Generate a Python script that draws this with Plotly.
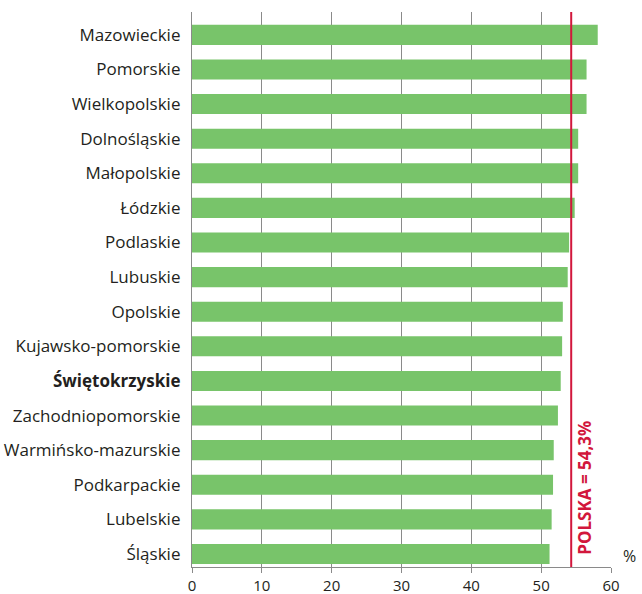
import plotly.graph_objects as go

# Regions, top to bottom, with their share (%)
regions = [
    "Mazowieckie", "Pomorskie", "Wielkopolskie", "Dolnośląskie", "Małopolskie",
    "Łódzkie", "Podlaskie", "Lubuskie", "Opolskie", "Kujawsko-pomorskie",
    "Świętokrzyskie", "Zachodniopomorskie", "Warmińsko-mazurskie",
    "Podkarpackie", "Lubelskie", "Śląskie",
]
values = [58.1, 56.5, 56.5, 55.3, 55.3, 54.8, 54.0, 53.8, 53.1, 53.0,
          52.8, 52.4, 51.8, 51.7, 51.5, 51.2]
poland_avg = 54.3
highlight = "Świętokrzyskie"

x_ticks = [0, 10, 20, 30, 40, 50, 60]

FONT = "Open Sans, Noto Sans, sans-serif"
TEXT = "#231f20"
GREEN = "#78c46a"
RED = "#d2173c"
GRID = "#8a8a8a"

tick_text = [f"<b>{r}</b>" if r == highlight else r for r in regions]

fig = go.Figure()
fig.add_trace(go.Bar(
    x=values, y=regions, orientation="h",
    marker=dict(color=GREEN, line=dict(width=0)),
    width=0.58, hoverinfo="x+y",
))

fig.add_shape(type="line", xref="x", yref="paper",
              x0=poland_avg, x1=poland_avg, y0=0, y1=1,
              line=dict(color=RED, width=2), layer="above")

fig.add_annotation(xref="x", yref="paper", x=poland_avg, y=0.0,
                   text="<b>POLSKA = 54,3%</b>", textangle=-90,
                   showarrow=False, xanchor="left", yanchor="bottom",
                   xshift=-1, yshift=10,
                   font=dict(family=FONT, size=17, color=RED))

fig.add_annotation(xref="paper", yref="paper", x=1.0, y=0.0,
                   text="%", showarrow=False, xanchor="left", yanchor="bottom",
                   xshift=10, yshift=-2,
                   font=dict(family=FONT, size=16, color=TEXT))

fig.update_xaxes(
    range=[0, 60], tickvals=x_ticks, ticktext=[str(t) for t in x_ticks],
    showgrid=True, gridcolor=GRID, gridwidth=1.3,
    showline=True, linecolor=GRID, linewidth=1.3,
    ticks="outside", ticklen=5, tickcolor=GRID, tickwidth=1.3,
    tickfont=dict(family=FONT, size=15, color=TEXT),
    ticklabelstandoff=0,
    zeroline=False, fixedrange=True, automargin=False,
)
fig.update_yaxes(
    categoryorder="array", categoryarray=regions,
    tickvals=regions, ticktext=tick_text,
    range=[15.376, -0.66],
    showline=True, linecolor=GRID, linewidth=1.3,
    ticks="", ticklabelstandoff=7,
    tickfont=dict(family=FONT, size=17, color=TEXT),
    showgrid=False, fixedrange=True, automargin=False,
)

fig.update_layout(
    width=642, height=594,
    margin=dict(l=192, r=31, t=12, b=27, autoexpand=False),
    paper_bgcolor="white", plot_bgcolor="white",
    showlegend=False, bargap=0.42,
    font=dict(family=FONT, color=TEXT),
)

fig.write_html("out.html")
